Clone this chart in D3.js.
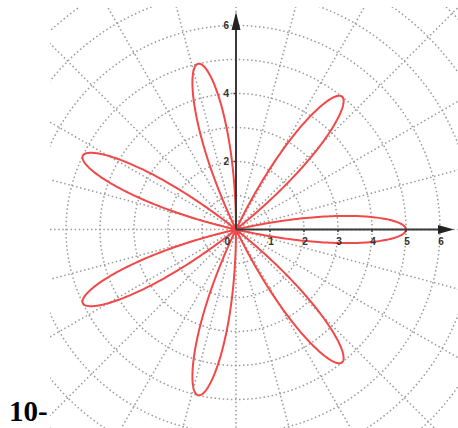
<!DOCTYPE html>
<html>
<head>
<meta charset="utf-8">
<script src="https://cdn.jsdelivr.net/npm/d3@7"></script>
<style>
  html, body { margin: 0; padding: 0; background: #fff; }
  svg { display: block; }
</style>
</head>
<body>
<svg id="chart" width="458" height="428"></svg>
<script>
// Rose curve r = a·cos(kθ): petal length and petal directions (degrees)
const petalLength = 5;
const petalCount = 7;
const petalAngles = [0, 51.43, 102.86, 154.29, 205.71, 257.14, 308.57];

// Axis ticks and labels
const xTicks = [1, 2, 3, 4, 5, 6];
const yTicks = [2, 4, 6];
const gridRadii = [1, 2, 3, 4, 5, 6, 7, 8, 9];
const gridAngles = d3.range(0, 360, 15);
const problemLabel = "10-";

const svg = d3.select("#chart");
const W = 458, H = 428;

// Cartesian scales sharing one unit length
const x = d3.scaleLinear().domain([0, 6]).range([236, 440]);
const y = d3.scaleLinear().domain([0, 6]).range([229.5, 25.5]);
const unit = x(1) - x(0);
const ox = x(0), oy = y(0);

// Clip for the graphics view
svg.append("defs").append("clipPath").attr("id", "view")
  .append("rect").attr("x", 50).attr("y", 7).attr("width", W - 50).attr("height", H - 7);

const plot = svg.append("g").attr("clip-path", "url(#view)");

// Polar grid
const grid = plot.append("g")
  .attr("fill", "none")
  .attr("stroke", "#9a9a9a")
  .attr("stroke-width", 1.5)
  .attr("stroke-dasharray", "1.5 2.6");

grid.selectAll("circle").data(gridRadii).join("circle")
  .attr("cx", ox).attr("cy", oy)
  .attr("r", d => d * unit);

grid.selectAll("line").data(gridAngles).join("line")
  .attr("x1", ox).attr("y1", oy)
  .attr("x2", d => ox + Math.cos(d * Math.PI / 180) * 10 * unit)
  .attr("y2", d => oy - Math.sin(d * Math.PI / 180) * 10 * unit);

// Axes (positive half only) with arrow heads
const axisColor = "#3a3a3a";
const axes = svg.append("g");
axes.append("line")
  .attr("x1", ox).attr("y1", oy).attr("x2", 446).attr("y2", oy)
  .attr("stroke", axisColor).attr("stroke-width", 2);
axes.append("line")
  .attr("x1", ox).attr("y1", oy).attr("x2", ox).attr("y2", 20)
  .attr("stroke", axisColor).attr("stroke-width", 2);
axes.append("path")
  .attr("d", `M${454},${oy} L${438},${oy - 4.5} L${438},${oy + 4.5} Z`)
  .attr("fill", "#222");
axes.append("path")
  .attr("d", `M${ox},${12} L${ox - 4.5},${30} L${ox + 4.5},${30} Z`)
  .attr("fill", "#222");

// Tick marks
axes.selectAll(".xt").data(xTicks.filter(d => d < 6)).join("line")
  .attr("x1", d => x(d)).attr("x2", d => x(d))
  .attr("y1", oy).attr("y2", oy + 2.5)
  .attr("stroke", axisColor).attr("stroke-width", 1.5);
axes.selectAll(".yt").data(yTicks.filter(d => d < 6)).join("line")
  .attr("x1", ox - 2.5).attr("x2", ox)
  .attr("y1", d => y(d)).attr("y2", d => y(d))
  .attr("stroke", axisColor).attr("stroke-width", 1.5);

// Tick labels
const labelStyle = sel => sel
  .attr("font-family", "'Liberation Sans', Arial, sans-serif")
  .attr("font-size", 10)
  .attr("font-weight", "bold")
  .attr("fill", "#333");

axes.selectAll(".xl").data(xTicks).join("text")
  .call(labelStyle)
  .attr("x", d => x(d) + 1)
  .attr("y", oy + 15)
  .attr("text-anchor", "middle")
  .text(d => d);
axes.selectAll(".yl").data(yTicks).join("text")
  .call(labelStyle)
  .attr("x", ox - 7)
  .attr("y", d => y(d) + 3.5)
  .attr("text-anchor", "end")
  .text(d => d);
axes.append("text").call(labelStyle)
  .attr("x", ox - 6).attr("y", oy + 15)
  .attr("text-anchor", "end")
  .text("0");

// Rose petals, each traced over its own angular span
const halfSpan = Math.PI / (2 * petalCount);
const radial = d3.lineRadial()
  .angle(t => Math.PI / 2 - t)
  .radius(t => Math.max(0, petalLength * Math.cos(petalCount * t)) * unit)
  .curve(d3.curveLinear);

const petals = plot.append("g")
  .attr("transform", `translate(${ox},${oy})`)
  .attr("fill", "none")
  .attr("stroke", "#f24848")
  .attr("stroke-width", 2)
  .attr("stroke-linejoin", "round");

petals.selectAll("path").data(petalAngles).join("path")
  .attr("transform", d => `rotate(${-d})`)
  .attr("d", () => radial(d3.range(-halfSpan, halfSpan + 1e-9, halfSpan / 80)) + "Z");

// Problem number
svg.append("text")
  .attr("x", 9).attr("y", 421)
  .attr("font-family", "'Liberation Serif', 'Times New Roman', serif")
  .attr("font-weight", "bold")
  .attr("font-size", 29)
  .attr("fill", "#000")
  .text(problemLabel);
</script>
</body>
</html>
